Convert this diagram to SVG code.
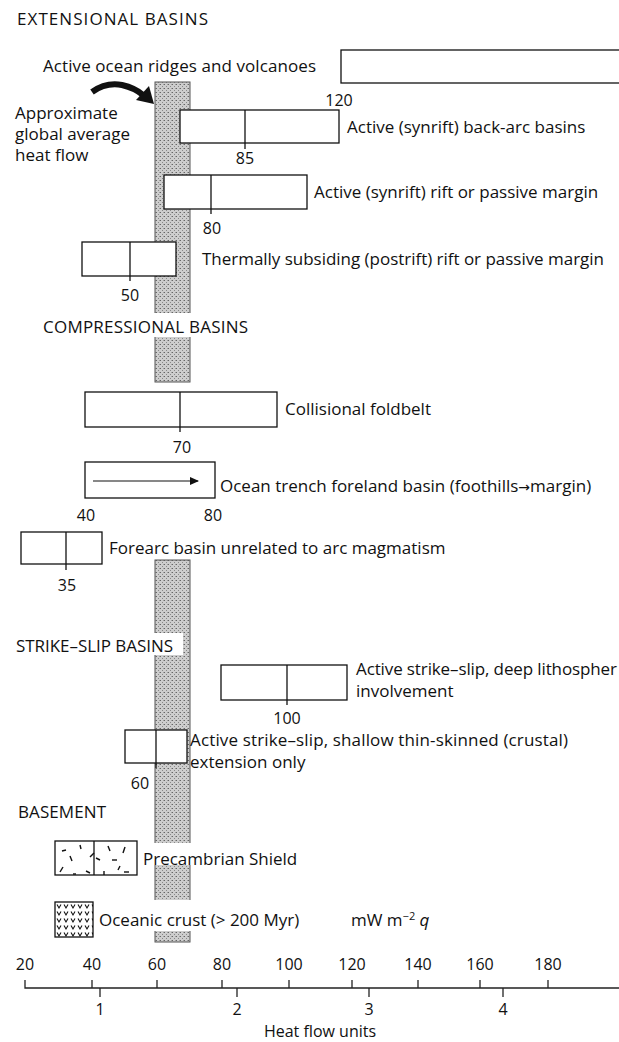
<svg xmlns="http://www.w3.org/2000/svg" width="619" height="1042" viewBox="0 0 619 1042">
<style>
text{font-family:"Open Sans","Liberation Sans",Arial,sans-serif;fill:#111}
.h{font-size:17px}
.t{font-size:17px}
.n{font-size:16px;text-anchor:middle}
.box{fill:#fff;stroke:#111;stroke-width:1.3}
.div{stroke:#111;stroke-width:1.3}
.ax{stroke:#222;stroke-width:1.3;fill:none}
</style>
<defs>
<pattern id="stip" width="4" height="4" patternUnits="userSpaceOnUse">
<rect width="4" height="4" fill="#cdcdcd"/>
<rect x="0" y="0" width="1" height="1" fill="#666"/>
<rect x="2" y="2" width="1" height="1" fill="#888"/>
<rect x="3" y="0" width="1" height="1" fill="#a0a0a0"/>
</pattern>
<pattern id="vv" width="7" height="7" patternUnits="userSpaceOnUse" x="56" y="903">
<path d="M1 1.5 L3 5 L5 1.5" fill="none" stroke="#111" stroke-width="1.1"/>
</pattern>
<marker id="ah" markerWidth="9" markerHeight="8" refX="8" refY="4" orient="auto" markerUnits="userSpaceOnUse">
<path d="M0 0 L9 4 L0 8 Z" fill="#111"/>
</marker>
</defs>

<g id="band">
<rect x="155" y="82" width="35" height="300" fill="url(#stip)" stroke="#555" stroke-width="1"/>
<rect x="155" y="560" width="35" height="382" fill="url(#stip)" stroke="#555" stroke-width="1"/>
<rect x="150" y="313" width="42" height="24" fill="#fff"/>
<rect x="150" y="633" width="33" height="22" fill="#fff"/>
<rect x="150" y="843" width="42" height="22" fill="#fff"/>
<rect x="150" y="900" width="42" height="31" fill="#fff"/>
</g>

<g id="titles">
<text class="h" x="17" y="25" textLength="191">EXTENSIONAL BASINS</text>
<text class="h" x="43" y="333" textLength="205">COMPRESSIONAL BASINS</text>
<text class="h" x="16" y="652" textLength="157">STRIKE–SLIP BASINS</text>
<text class="h" x="18" y="818" textLength="88">BASEMENT</text>
</g>

<g id="global-average">
<text class="t" x="15" y="119">Approximate</text>
<text class="t" x="15" y="140">global average</text>
<text class="t" x="15" y="161">heat flow</text>
</g>

<g id="ocean-ridges">
<rect class="box" x="341" y="50" width="290" height="33"/>
<text class="t" x="43" y="72" textLength="273">Active ocean ridges and volcanoes</text>
</g>

<g id="back-arc">
<rect class="box" x="180" y="110" width="159" height="33"/>
<line class="div" x1="245" y1="110" x2="245" y2="149"/>
<text class="n" x="245" y="164">85</text>
<text class="n" x="339" y="106" text-anchor="end">120</text>
<text class="t" x="347" y="133">Active (synrift) back-arc basins</text>
</g>

<g id="synrift-rift">
<rect class="box" x="164" y="175" width="143" height="34"/>
<line class="div" x1="211" y1="175" x2="211" y2="214"/>
<text class="n" x="212" y="234">80</text>
<text class="t" x="314" y="198">Active (synrift) rift or passive margin</text>
</g>

<g id="postrift">
<rect class="box" x="82" y="242" width="94" height="34"/>
<line class="div" x1="130" y1="242" x2="130" y2="281"/>
<text class="n" x="130" y="301">50</text>
<text class="t" x="202" y="265" textLength="402">Thermally subsiding (postrift) rift or passive margin</text>
</g>

<g id="collisional">
<rect class="box" x="85" y="392" width="192" height="35"/>
<line class="div" x1="180" y1="392" x2="180" y2="432"/>
<text class="n" x="182" y="453">70</text>
<text class="t" x="285" y="415">Collisional foldbelt</text>
</g>

<g id="ocean-trench">
<rect class="box" x="85" y="462" width="130" height="36"/>
<text class="t" x="220" y="492">Ocean trench foreland basin (foothills<tspan font-size="14" font-family="DejaVu Sans">→</tspan>margin)</text>
<text class="n" x="86" y="521">40</text>
<text class="n" x="213" y="521">80</text>
</g>

<g id="forearc">
<rect class="box" x="21" y="532" width="81" height="32"/>
<line class="div" x1="66" y1="532" x2="66" y2="570"/>
<text class="n" x="67" y="591">35</text>
<text class="t" x="109" y="554">Forearc basin unrelated to arc magmatism</text>
</g>

<g id="deep-strike-slip">
<rect class="box" x="221" y="665" width="126" height="35"/>
<line class="div" x1="287" y1="665" x2="287" y2="705"/>
<text class="n" x="287" y="724">100</text>
<text class="t" x="356" y="675" textLength="261">Active strike–slip, deep lithospher</text>
<text class="t" x="356" y="697">involvement</text>
</g>

<g id="shallow-strike-slip">
<rect class="box" x="125" y="730" width="62" height="33"/>
<line class="div" x1="156" y1="730" x2="156" y2="768"/>
<text class="n" x="140" y="789">60</text>
<text class="t" x="190" y="746" textLength="378">Active strike–slip, shallow thin-skinned (crustal)</text>
<text class="t" x="190" y="768">extension only</text>
</g>

<g id="shield">
<rect class="box" x="55" y="841" width="82" height="34"/>
<line class="div" x1="94" y1="841" x2="94" y2="875"/>
<g stroke="#111" stroke-width="1.4">
<line x1="62" y1="851" x2="66" y2="850"/>
<line x1="70" y1="856" x2="72" y2="861"/>
<line x1="80" y1="845" x2="81" y2="849"/>
<line x1="60" y1="872" x2="63" y2="867"/>
<line x1="73" y1="874" x2="76" y2="874"/>
<line x1="86" y1="871" x2="90" y2="873"/>
<line x1="90" y1="857" x2="94" y2="853"/>
<line x1="96" y1="858" x2="100" y2="860"/>
<line x1="108" y1="846" x2="110" y2="851"/>
<line x1="112" y1="860" x2="117" y2="860"/>
<line x1="125" y1="847" x2="123" y2="853"/>
<line x1="120" y1="866" x2="118" y2="870"/>
<line x1="124" y1="872" x2="129" y2="872"/>
<line x1="104" y1="871" x2="104" y2="875"/>
</g>
<text class="t" x="143" y="865">Precambrian Shield</text>
</g>

<g id="oceanic-crust">
<rect x="55" y="902" width="38" height="35" fill="url(#vv)" stroke="#111" stroke-width="1.3"/>
<text class="t" x="99" y="926">Oceanic crust (&gt; 200 Myr)</text>
<text class="t" x="351" y="926">mW m<tspan font-size="11" dy="-6">−2</tspan><tspan dy="6" font-style="italic"> q</tspan></text>
</g>

<g id="connectors">
<path d="M92 92 Q 106 82 122 85 Q 135 88 143 95" fill="none" stroke="#111" stroke-width="6"/>
<path d="M136 100 L149 86 L154 104 Z" fill="#111"/>
<line x1="93" y1="481" x2="198" y2="481" stroke="#111" stroke-width="1.2" marker-end="url(#ah)"/>
</g>

<g id="axis">
<path class="ax" d="M25 980 V988 H625"/>
<g class="ax">
<line x1="92" y1="980" x2="92" y2="988"/>
<line x1="157" y1="980" x2="157" y2="988"/>
<line x1="222" y1="980" x2="222" y2="988"/>
<line x1="289" y1="980" x2="289" y2="988"/>
<line x1="352" y1="980" x2="352" y2="988"/>
<line x1="418" y1="980" x2="418" y2="988"/>
<line x1="480" y1="980" x2="480" y2="988"/>
<line x1="548" y1="980" x2="548" y2="988"/>
<line x1="100" y1="988" x2="100" y2="997"/>
<line x1="237" y1="988" x2="237" y2="997"/>
<line x1="369" y1="988" x2="369" y2="997"/>
<line x1="503" y1="988" x2="503" y2="997"/>
</g>
<text class="n" x="25" y="970">20</text>
<text class="n" x="92" y="970">40</text>
<text class="n" x="157" y="970">60</text>
<text class="n" x="222" y="970">80</text>
<text class="n" x="289" y="970">100</text>
<text class="n" x="352" y="970">120</text>
<text class="n" x="418" y="970">140</text>
<text class="n" x="480" y="970">160</text>
<text class="n" x="548" y="970">180</text>
<text class="n" x="100" y="1015">1</text>
<text class="n" x="237" y="1015">2</text>
<text class="n" x="369" y="1015">3</text>
<text class="n" x="503" y="1015">4</text>
<text class="n" x="320" y="1037">Heat flow units</text>
</g>
</svg>
